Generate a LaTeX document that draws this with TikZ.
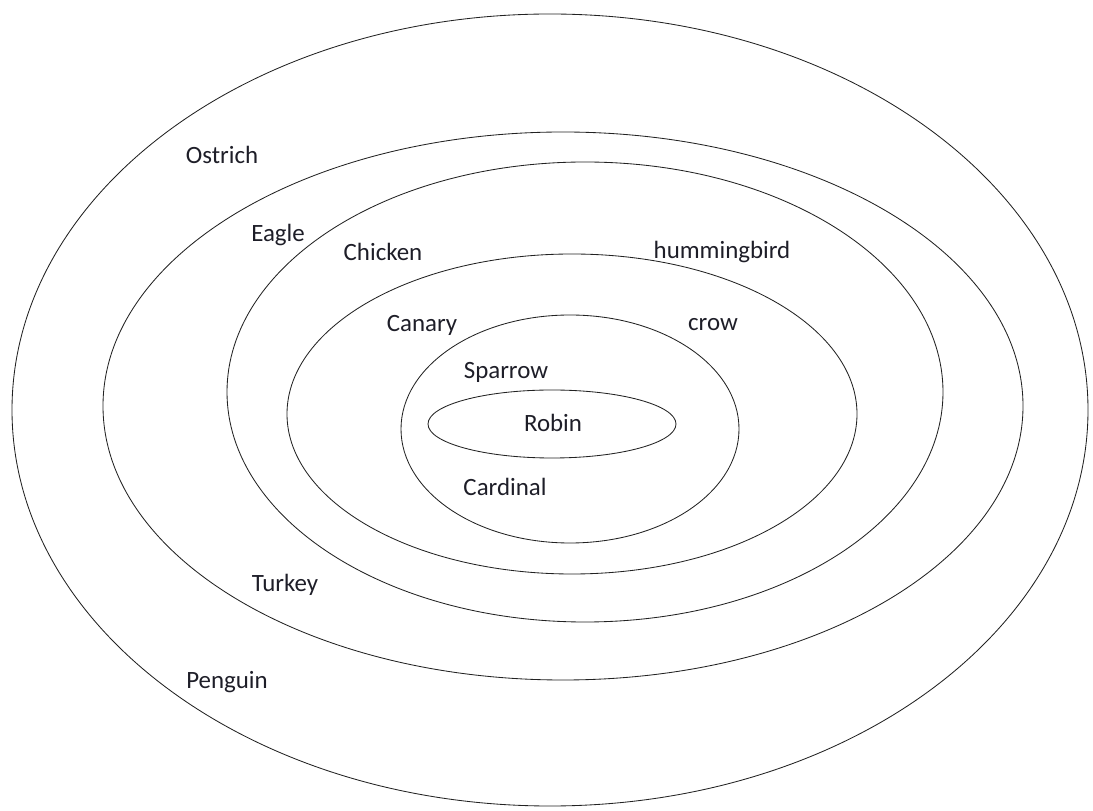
\documentclass[tikz,border=0pt]{standalone}
\usepackage{fontspec}
\setmainfont{Carlito}
\usepackage{tikz}
\usepackage{xcolor}
\definecolor{ringLine}{HTML}{222222}
\definecolor{birdText}{HTML}{1E1E28}

\begin{document}
\begin{tikzpicture}[x=0.025cm, y=0.025cm,
  ring/.style={draw=ringLine, line width=0.6pt},
  bird/.style={inner sep=0pt, text=birdText, font=\fontsize{17.7}{21}\selectfont}]
  \useasboundingbox (0,0) rectangle (1093,810);
  % nested rings, outer to inner
  \draw[ring] (550,400) ellipse [x radius=538, y radius=396];
  \draw[ring] (563,404) ellipse [x radius=460, y radius=274];
  \draw[ring] (585,418) ellipse [x radius=358, y radius=230];
  \draw[ring] (572,396) ellipse [x radius=285, y radius=160];
  \draw[ring] (570,381) ellipse [x radius=169, y radius=114];
  \draw[ring] (552,386) ellipse [x radius=124, y radius=34];
  % labels
  \node[bird] (ostrich) at (222,655) {Ostrich};
  \node[bird] (eagle) at (278,575) {Eagle};
  \node[bird] (chicken) at (383,558) {Chicken};
  \node[bird] (humming) at (722,558) {hummingbird};
  \node[bird] (canary) at (422,485) {Canary};
  \node[bird] (crow) at (713,485) {crow};
  \node[bird] (sparrow) at (506,438) {Sparrow};
  \node[bird] (robin) at (553,387) {Robin};
  \node[bird] (cardinal) at (505,323) {Cardinal};
  \node[bird] (turkey) at (285,225) {Turkey};
  \node[bird] (penguin) at (227,128) {Penguin};
\end{tikzpicture}
\end{document}
